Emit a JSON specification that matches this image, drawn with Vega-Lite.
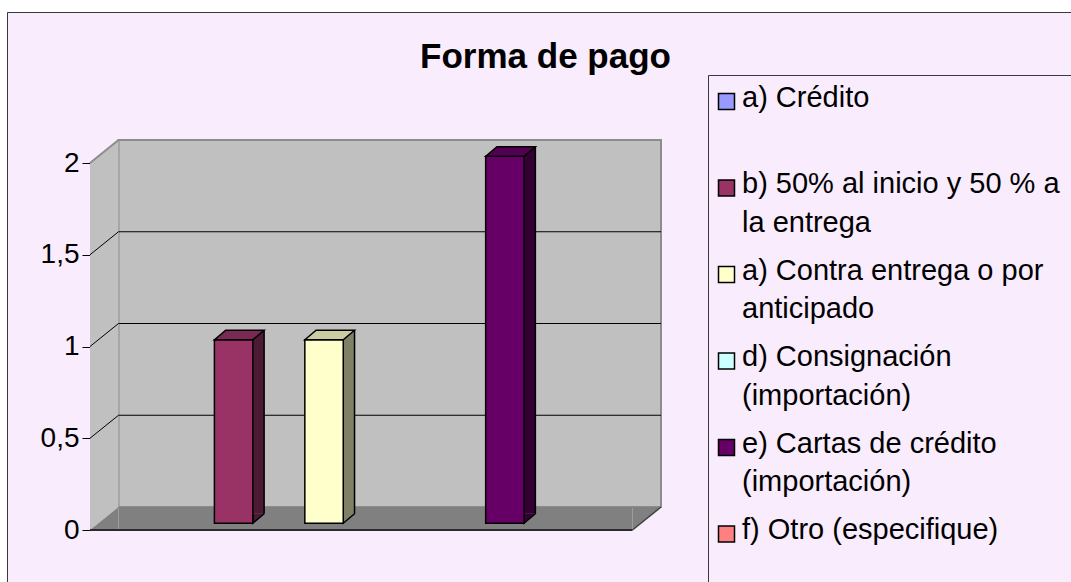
{
  "$schema": "https://vega.github.io/schema/vega-lite/v6.json",
  "width": 1064,
  "height": 570,
  "autosize": "none",
  "padding": {"left": 7, "top": 12, "right": 0, "bottom": 0},
  "background": "#FFFFFF",
  "config": {
    "font": "Liberation Sans",
    "view": {"fill": "#F8ECFD", "stroke": "#3a3a3a", "strokeWidth": 1, "strokeDash": [1064, 1634, 572, 0]},
    "axisY": {"labelFontSize": 28, "labelFont": "Liberation Sans", "labelColor": "#000000", "domainColor": "#000000", "domainWidth": 1, "tickColor": "#000000", "tickSize": 8, "labelPadding": 3, "offset": -83, "grid": false, "zindex": 1}
  },
  "title": {"text": "Forma de pago", "font": "Liberation Sans", "fontSize": 35, "fontWeight": "bold", "color": "#000000", "anchor": "middle", "frame": "group", "offset": 0, "baseline": "alphabetic", "dx": 6.5, "dy": 91},
  "datasets": {
    "pago": [
      {"cat": "a) Crédito", "v": 0},
      {"cat": "b) 50% al inicio y 50 % a la entrega", "v": 1},
      {"cat": "a) Contra entrega o por anticipado", "v": 1},
      {"cat": "d) Consignación (importación)", "v": 0},
      {"cat": "e) Cartas de crédito (importación)", "v": 2},
      {"cat": "f) Otro (especifique)", "v": 0}
    ],
    "grid": [{"v": 0.5}, {"v": 1}, {"v": 1.5}],
    "one": [{"k": 1}]
  },
  "layer": [
    {
      "data": {"name": "one"},
      "mark": {"type": "rect", "fill": "#C0C0C0", "stroke": "#8C8C8C", "strokeWidth": 2, "xOffset": 28.5, "x2Offset": 28.5, "yOffset": -23, "y2Offset": -23},
      "encoding": {
        "x": {"datum": "a) Crédito", "type": "nominal", "bandPosition": 0, "axis": null, "scale": {"type": "band", "domain": ["a) Crédito", "b) 50% al inicio y 50 % a la entrega", "a) Contra entrega o por anticipado", "d) Consignación (importación)", "e) Cartas de crédito (importación)", "f) Otro (especifique)"], "range": [83, 625.5], "paddingInner": 0, "paddingOuter": 0}},
        "x2": {"datum": "f) Otro (especifique)", "bandPosition": 1},
        "y": {"datum": 0, "type": "quantitative", "title": null, "scale": {"domain": [0, 2], "range": [518, 151], "nice": false}},
        "y2": {"datum": 2}
      }
    },
    {
      "data": {"name": "one"},
      "mark": {"type": "rect", "fill": "#C0C0C0", "strokeWidth": 0, "x2Offset": 28.5, "y2Offset": -23},
      "encoding": {
        "x": {"datum": "a) Crédito", "type": "nominal", "bandPosition": 0, "axis": null},
        "x2": {"datum": "a) Crédito", "bandPosition": 0},
        "y": {"datum": 2, "type": "quantitative", "title": null},
        "y2": {"datum": 0}
      }
    },
    {
      "data": {"name": "one"},
      "mark": {"type": "point", "shape": "M0,0L28.5,-23L28.5,0Z", "size": 4, "filled": true, "opacity": 1, "fill": "#C0C0C0", "strokeWidth": 0},
      "encoding": {
        "x": {"datum": "a) Crédito", "type": "nominal", "bandPosition": 0, "axis": null},
        "y": {"datum": 2, "type": "quantitative", "title": null}
      }
    },
    {
      "data": {"name": "one"},
      "mark": {"type": "point", "shape": "M0,0L0,-23L28.5,-23Z", "size": 4, "filled": true, "opacity": 1, "fill": "#C0C0C0", "strokeWidth": 0},
      "encoding": {
        "x": {"datum": "a) Crédito", "type": "nominal", "bandPosition": 0, "axis": null},
        "y": {"datum": 0, "type": "quantitative", "title": null}
      }
    },
    {
      "data": {"name": "one"},
      "mark": {"type": "rule", "stroke": "#8C8C8C", "strokeWidth": 2, "x2Offset": 28.5, "y2Offset": -23},
      "encoding": {
        "x": {"datum": "a) Crédito", "type": "nominal", "bandPosition": 0, "axis": null},
        "x2": {"datum": "a) Crédito", "bandPosition": 0},
        "y": {"datum": 2, "type": "quantitative", "title": null},
        "y2": {"datum": 2}
      }
    },
    {
      "data": {"name": "grid"},
      "mark": {"type": "rule", "stroke": "#000000", "strokeWidth": 1, "xOffset": 28.5, "x2Offset": 28.5, "yOffset": -23},
      "encoding": {
        "x": {"datum": "a) Crédito", "type": "nominal", "bandPosition": 0, "axis": null},
        "x2": {"datum": "f) Otro (especifique)", "bandPosition": 1},
        "y": {"field": "v", "type": "quantitative", "title": null}
      }
    },
    {
      "data": {"name": "grid"},
      "mark": {"type": "rule", "stroke": "#000000", "strokeWidth": 1, "x2Offset": 28.5, "y2Offset": -23},
      "encoding": {
        "x": {"datum": "a) Crédito", "type": "nominal", "bandPosition": 0, "axis": null},
        "x2": {"datum": "a) Crédito", "bandPosition": 0},
        "y": {"field": "v", "type": "quantitative", "title": null},
        "y2": {"field": "v"}
      }
    },
    {
      "data": {"name": "one"},
      "mark": {"type": "rect", "fill": "#808080", "strokeWidth": 0, "xOffset": 28.5, "yOffset": -23},
      "encoding": {
        "x": {"datum": "a) Crédito", "type": "nominal", "bandPosition": 0, "axis": null},
        "x2": {"datum": "f) Otro (especifique)", "bandPosition": 1},
        "y": {"datum": 0, "type": "quantitative", "title": null},
        "y2": {"datum": 0}
      }
    },
    {
      "data": {"name": "one"},
      "mark": {"type": "point", "shape": "M0,0L28.5,0L28.5,-23Z", "size": 4, "filled": true, "opacity": 1, "fill": "#808080", "strokeWidth": 0},
      "encoding": {
        "x": {"datum": "a) Crédito", "type": "nominal", "bandPosition": 0, "axis": null},
        "y": {"datum": 0, "type": "quantitative", "title": null}
      }
    },
    {
      "data": {"name": "one"},
      "mark": {"type": "point", "shape": "M0,0L28.5,-23L0,-23Z", "size": 4, "filled": true, "opacity": 1, "fill": "#808080", "strokeWidth": 0},
      "encoding": {
        "x": {"datum": "f) Otro (especifique)", "type": "nominal", "bandPosition": 1, "axis": null},
        "y": {"datum": 0, "type": "quantitative", "title": null}
      }
    },
    {
      "data": {"name": "one"},
      "mark": {"type": "rule", "stroke": "#2b2b2b", "strokeWidth": 2},
      "encoding": {
        "x": {"datum": "a) Crédito", "type": "nominal", "bandPosition": 0, "axis": null},
        "x2": {"datum": "f) Otro (especifique)", "bandPosition": 1},
        "y": {"datum": 0, "type": "quantitative", "title": null}
      }
    },
    {
      "data": {"name": "one"},
      "mark": {"type": "rule", "stroke": "#404040", "strokeWidth": 1.5, "x2Offset": 28.5, "y2Offset": -23},
      "encoding": {
        "x": {"datum": "f) Otro (especifique)", "type": "nominal", "bandPosition": 1, "axis": null},
        "x2": {"datum": "f) Otro (especifique)", "bandPosition": 1},
        "y": {"datum": 0, "type": "quantitative", "title": null},
        "y2": {"datum": 0}
      }
    },
    {
      "data": {"name": "pago"},
      "transform": [{"filter": "datum.v > 0"}],
      "mark": {"type": "bar", "width": 11.3, "xOffset": 32.85, "yOffset": -16.25, "y2Offset": -16.25, "strokeWidth": 0},
      "encoding": {
        "x": {"field": "cat", "type": "nominal", "axis": null},
        "y": {"field": "v", "type": "quantitative", "title": null},
        "y2": {"datum": 0},
        "fill": {"condition": [{"test": "datum.cat === 'b) 50% al inicio y 50 % a la entrega'", "value": "#4D1A33"}, {"test": "datum.cat === 'a) Contra entrega o por anticipado'", "value": "#808066"}], "value": "#330033"}
      }
    },
    {
      "data": {"name": "pago"},
      "transform": [{"filter": "datum.v > 0"}],
      "mark": {"type": "point", "shape": "M11.3,-9.5L0,0L0,-9.5", "size": 4, "filled": true, "opacity": 1, "stroke": "#000000", "strokeWidth": 1.5, "xOffset": 27.2, "yOffset": -6.75},
      "encoding": {
        "x": {"field": "cat", "type": "nominal", "axis": null},
        "y": {"datum": 0, "type": "quantitative", "title": null},
        "fill": {"condition": [{"test": "datum.cat === 'b) 50% al inicio y 50 % a la entrega'", "value": "#4D1A33"}, {"test": "datum.cat === 'a) Contra entrega o por anticipado'", "value": "#808066"}], "value": "#330033"}
      }
    },
    {
      "data": {"name": "pago"},
      "transform": [{"filter": "datum.v > 0"}],
      "mark": {"type": "rule", "stroke": "#000000", "strokeWidth": 1.5, "xOffset": 38.5, "yOffset": -16.25, "y2Offset": -16.25},
      "encoding": {
        "x": {"field": "cat", "type": "nominal", "axis": null},
        "y": {"field": "v", "type": "quantitative", "title": null},
        "y2": {"datum": 0}
      }
    },
    {
      "data": {"name": "pago"},
      "transform": [{"filter": "datum.v > 0"}],
      "mark": {"type": "bar", "width": {"band": 0.425}, "xOffset": 8, "yOffset": -6.75, "y2Offset": -6.75, "stroke": "#000000", "strokeWidth": 1.5},
      "encoding": {
        "x": {"field": "cat", "type": "nominal", "axis": null},
        "y": {"field": "v", "type": "quantitative", "title": null, "axis": {"values": [0, 0.5, 1, 1.5, 2], "labelExpr": "replace(format(datum.value, ''), '.', ',')"}},
        "y2": {"datum": 0},
        "color": {
          "field": "cat", "type": "nominal",
          "scale": {"domain": ["a) Crédito", "b) 50% al inicio y 50 % a la entrega", "a) Contra entrega o por anticipado", "d) Consignación (importación)", "e) Cartas de crédito (importación)", "f) Otro (especifique)"], "range": ["#9999FF", "#993366", "#FFFFCC", "#CCFFFF", "#660066", "#FF8080"]},
          "legend": {
            "title": null,
            "orient": "none", "legendX": 701, "legendY": 63, "padding": 4,
            "strokeColor": "#3a3a3a", "fillColor": "#F8ECFD", "cornerRadius": 0,
            "clipHeight": 80, "rowPadding": 6.5,
            "symbolType": "square", "symbolSize": 256, "symbolStrokeColor": "#000000", "symbolStrokeWidth": 1.5,
            "labelFontSize": 29, "labelFont": "Liberation Sans", "labelColor": "#000000", "labelLimit": 600, "labelOffset": 1, "labelBaseline": "alphabetic",
            "labelExpr": "datum.label == 'b) 50% al inicio y 50 % a la entrega' ? ['b) 50% al inicio y 50 % a', 'la entrega'] : datum.label == 'a) Contra entrega o por anticipado' ? ['a) Contra entrega o por', 'anticipado'] : datum.label == 'd) Consignación (importación)' ? ['d) Consignación', '(importación)'] : datum.label == 'e) Cartas de crédito (importación)' ? ['e) Cartas de crédito', '(importación)'] : datum.label",
            "encode": {
              "entries": {"update": {"width": {"value": 370}}},
              "labels": {"update": {"y": {"value": 27.5}, "lineHeight": {"value": 38.5}}},
              "symbols": {"update": {"y": {"value": 22.5}, "stroke": {"value": "#000000"}, "strokeWidth": {"value": 1.5}}}
            }
          }
        }
      }
    },
    {
      "data": {"name": "pago"},
      "transform": [{"filter": "datum.v > 0"}],
      "mark": {"type": "point", "shape": "M0,0L11.3,-9.5L49.7,-9.5L38.4,0Z", "size": 4, "filled": true, "opacity": 1, "stroke": "#000000", "strokeWidth": 1.5, "xOffset": -11.2, "yOffset": -6.75},
      "encoding": {
        "x": {"field": "cat", "type": "nominal", "axis": null},
        "y": {"field": "v", "type": "quantitative", "title": null},
        "fill": {"condition": [{"test": "datum.cat === 'b) 50% al inicio y 50 % a la entrega'", "value": "#7A2952"}, {"test": "datum.cat === 'a) Contra entrega o por anticipado'", "value": "#CCCCA3"}], "value": "#520052"}
      }
    }
  ]
}
